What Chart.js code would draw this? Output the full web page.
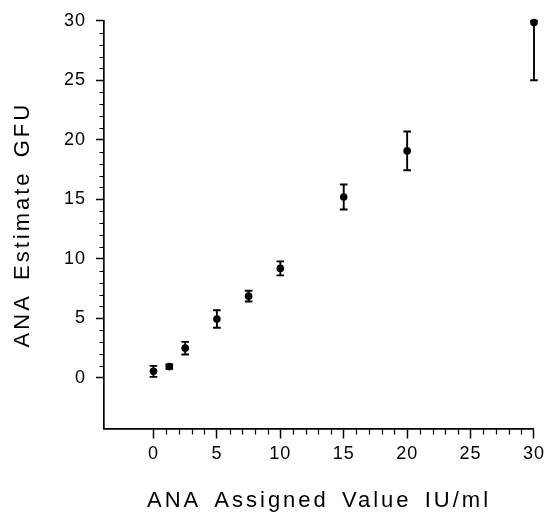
<!DOCTYPE html>
<html><head><meta charset="utf-8">
<script src="https://cdn.jsdelivr.net/npm/chart.js@4/dist/chart.umd.min.js"></script>
<style>html,body{margin:0;padding:0;background:#fff}#wrap{width:549px;height:515px}</style>
</head><body><div id="wrap"><canvas id="c" width="549" height="515"></canvas></div>
<script>
// Data
const xValues = [0, 1.25, 2.5, 5, 7.5, 10, 15, 20, 30];
const yMeans  = [0.55, 0.95, 2.5, 4.95, 6.87, 9.2, 15.2, 19.07, 29.85];
const yErrors = [0.46, 0.18, 0.53, 0.74, 0.45, 0.59, 1.05, 1.63, 4.84];
const xTicks = [0, 5, 10, 15, 20, 25, 30];
const yTicks = [0, 5, 10, 15, 20, 25, 30];
const xMinorTicks = [1,2,3,4,6,7,8,9,11,12,13,14,16,17,18,19,21,22,23,24,26,27,28,29];
const yMinorTicks = [1,2,3,4,6,7,8,9,11,12,13,14,16,17,18,19,21,22,23,24,26,27,28,29];
const xTitle = 'ANA Assigned Value IU/ml';
const yTitle = 'ANA Estimate GFU';

const FONT = '"Liberation Sans", Arial, Helvetica, sans-serif';

const errorBars = {
  id: 'errorBars',
  afterDatasetsDraw(chart) {
    const {ctx, chartArea: a, scales: {x, y}} = chart;
    ctx.save();
    ctx.beginPath();
    ctx.rect(a.left, a.top - 1, a.right - a.left + 8, a.bottom - a.top + 1);
    ctx.clip();
    ctx.strokeStyle = '#000';
    ctx.lineWidth = 1.9;
    xValues.forEach((xv, i) => {
      const px = x.getPixelForValue(xv);
      const top = Math.max(y.getPixelForValue(yMeans[i] + yErrors[i]), a.top);
      const bot = y.getPixelForValue(yMeans[i] - yErrors[i]);
      ctx.beginPath();
      ctx.moveTo(px, top); ctx.lineTo(px, bot);
      ctx.moveTo(px - 3.8, top); ctx.lineTo(px + 3.8, top);
      ctx.moveTo(px - 3.8, bot); ctx.lineTo(px + 3.8, bot);
      ctx.stroke();
    });
    ctx.restore();
  }
};

const minorTicks = {
  id: 'minorTicks',
  afterDraw(chart) {
    const {ctx, chartArea: a, scales: {x, y}} = chart;
    ctx.save();
    ctx.strokeStyle = '#000';
    ctx.lineWidth = 1.2;
    ctx.beginPath();
    xMinorTicks.forEach(v => { const px = Math.round(x.getPixelForValue(v)) + 0.5; ctx.moveTo(px, a.bottom); ctx.lineTo(px, a.bottom + 6); });
    yMinorTicks.forEach(v => { const py = Math.round(y.getPixelForValue(v)) + 0.5; ctx.moveTo(a.left, py); ctx.lineTo(a.left - 4.5, py); });
    ctx.stroke();
    ctx.restore();
  }
};

const spacing = {
  id: 'spacing',
  beforeDraw(chart) {
    Object.values(chart.scales).forEach(s => {
      if (s._spPatched) return;
      const dt = s.drawTitle.bind(s), dl = s.drawLabels.bind(s);
      s.drawTitle = function () {
        const c = this.ctx; const o = c.letterSpacing, w = c.wordSpacing;
        c.letterSpacing = '3px'; c.wordSpacing = '4px';
        dt(...arguments);
        c.letterSpacing = o; c.wordSpacing = w;
      };
      s.drawLabels = function () {
        const c = this.ctx; const o = c.letterSpacing;
        c.letterSpacing = '1px';
        dl(...arguments);
        c.letterSpacing = o;
      };
      s._spPatched = true;
    });
  }
};

new Chart(document.getElementById('c'), {
  type: 'scatter',
  data: {
    datasets: [{
      data: xValues.map((x, i) => ({x: x, y: yMeans[i]})),
      pointRadius: 3.8,
      pointBackgroundColor: '#000',
      pointBorderWidth: 0,
      showLine: false,
      clip: false
    }]
  },
  options: {
    responsive: false,
    animation: false,
    devicePixelRatio: 1,
    layout: {padding: {top: 20, right: 14, left: 0, bottom: 0}},
    plugins: {legend: {display: false}, tooltip: {enabled: false}},
    scales: {
      x: {
        type: 'linear', min: -3.9, max: 30,
        afterBuildTicks: s => { s.ticks = xTicks.map(v => ({value: v})); },
        afterFit: s => { s.height = 515 - 428.5; },
        grid: {drawOnChartArea: false, drawTicks: true, tickLength: 10, tickColor: '#000', tickWidth: 1.5},
        border: {display: true, color: '#000', width: 1.7},
        ticks: {color: '#000', font: {family: FONT, size: 18}, padding: 5, maxRotation: 0, autoSkip: false},
        title: {display: true, text: xTitle, color: '#000', font: {family: FONT, size: 22}, padding: {top: 0, bottom: 1}}
      },
      y: {
        type: 'linear', min: -4.25, max: 30,
        afterBuildTicks: s => { s.ticks = yTicks.map(v => ({value: v})); },
        afterFit: s => { s.width = 104; },
        grid: {drawOnChartArea: false, drawTicks: true, tickLength: 8, tickColor: '#000', tickWidth: 1.5},
        border: {display: true, color: '#000', width: 1.7},
        ticks: {color: '#000', font: {family: FONT, size: 18}, padding: 10, autoSkip: false},
        title: {display: true, text: yTitle, color: '#000', font: {family: FONT, size: 22}, padding: {top: 10, bottom: 0}}
      }
    }
  },
  plugins: [spacing, errorBars, minorTicks]
});
</script>
</body></html>
